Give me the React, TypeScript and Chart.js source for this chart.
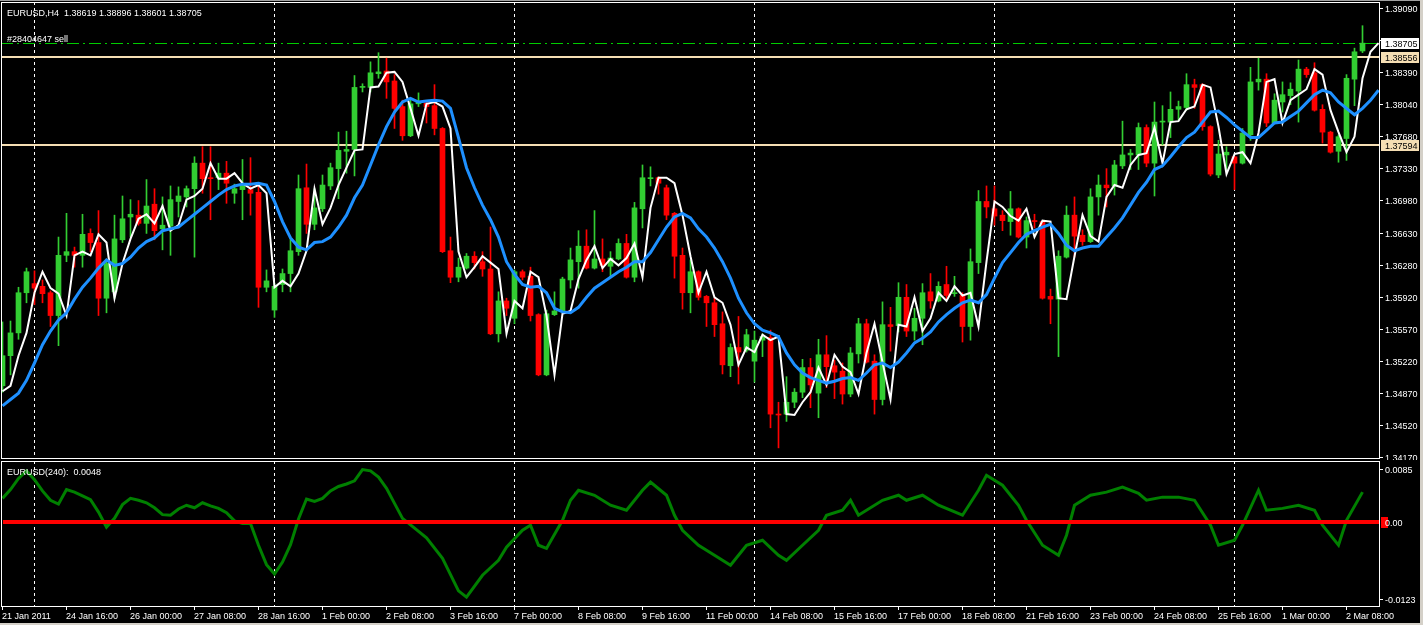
import React, { useEffect, useRef } from "react";
import { Chart, registerables } from "chart.js";

Chart.register(...registerables);

// ---------------- data (EURUSD, H4) ----------------
const opens = [
  1.3495, 1.3528, 1.3553, 1.3597, 1.3607, 1.3604, 1.3597, 1.3572, 1.3638, 1.3642,
  1.3638, 1.3662, 1.3652, 1.3591, 1.3598, 1.3655, 1.3680, 1.3682, 1.3673, 1.3694,
  1.3667, 1.3670, 1.3697, 1.3702, 1.3711, 1.3739, 1.3723, 1.3723, 1.3728, 1.3706,
  1.3710, 1.3710, 1.3707, 1.3603, 1.3578, 1.3606, 1.3618, 1.3642, 1.3712, 1.3672,
  1.3689, 1.3714, 1.3733, 1.3752, 1.3754, 1.3822, 1.3822, 1.3837, 1.3840, 1.3829,
  1.3801, 1.3769, 1.3804, 1.3805, 1.3802, 1.3777, 1.3643, 1.3614, 1.3624, 1.3637,
  1.3631, 1.3623, 1.3552, 1.3588, 1.3569, 1.3620, 1.3615, 1.3573, 1.3507, 1.3573,
  1.3577, 1.3611, 1.3631, 1.3648, 1.3624, 1.3634, 1.3626, 1.3634, 1.3651, 1.3614,
  1.3689, 1.3722, 1.3723, 1.3712, 1.3684, 1.3638, 1.3597, 1.3620, 1.3593, 1.3586,
  1.3563, 1.3517, 1.3537, 1.3534, 1.3522, 1.3545, 1.3548, 1.3464, 1.3464, 1.3477,
  1.3488, 1.3515, 1.3487, 1.3529, 1.3517, 1.3511, 1.3486, 1.3530, 1.3563, 1.3522,
  1.3480, 1.3562, 1.3561, 1.3592, 1.3555, 1.3569, 1.3598, 1.3588, 1.3606, 1.3596,
  1.3594, 1.3560, 1.3630, 1.3697, 1.3689, 1.3682, 1.3675, 1.3689, 1.3658, 1.3676,
  1.3675, 1.3593, 1.3590, 1.3636, 1.3682, 1.3660, 1.3653, 1.3702, 1.3715, 1.3714,
  1.3736, 1.3748, 1.3748, 1.3778, 1.3739, 1.3784, 1.3784, 1.3798, 1.3800, 1.3825,
  1.3825, 1.3779, 1.3726, 1.3748, 1.3746, 1.3739, 1.3770, 1.3828, 1.3831, 1.3783,
  1.3806, 1.3813, 1.3818, 1.3842, 1.3838, 1.3798, 1.3773, 1.3752, 1.3766, 1.3831,
  1.38619,
];
const highs = [
  1.3565, 1.3566, 1.3603, 1.3624, 1.3621, 1.3611, 1.3599, 1.3658, 1.3684, 1.3647,
  1.3683, 1.3667, 1.3687, 1.3633, 1.3682, 1.3703, 1.3699, 1.3698, 1.3721, 1.3711,
  1.3702, 1.3714, 1.3713, 1.3714, 1.3746, 1.3757, 1.3757, 1.3739, 1.3741, 1.3716,
  1.3743, 1.3745, 1.3714, 1.3622, 1.3607, 1.3623, 1.3658, 1.3726, 1.3738, 1.3711,
  1.3726, 1.3739, 1.3773, 1.3774, 1.3835, 1.3826, 1.3850, 1.3860, 1.3854, 1.3836,
  1.3808, 1.3809, 1.3816, 1.3807, 1.3825, 1.3778, 1.3658, 1.3635, 1.3640, 1.3642,
  1.3642, 1.3669, 1.3598, 1.3591, 1.3622, 1.3622, 1.3625, 1.3574, 1.3578, 1.3598,
  1.3614, 1.3646, 1.3665, 1.3666, 1.3687, 1.3656, 1.3642, 1.3656, 1.3661, 1.3696,
  1.3737, 1.3735, 1.3724, 1.3715, 1.3685, 1.3646, 1.3633, 1.3621, 1.3594, 1.3591,
  1.3576, 1.3541, 1.3571, 1.3557, 1.3555, 1.3552, 1.3556, 1.3477, 1.3505, 1.3492,
  1.3524, 1.3525, 1.3546, 1.3550, 1.3523, 1.3520, 1.3537, 1.3569, 1.3568, 1.3529,
  1.3587, 1.3581, 1.3608, 1.3606, 1.3580, 1.3607, 1.3618, 1.3609, 1.3626, 1.3615,
  1.3597, 1.3645, 1.3709, 1.3714, 1.3714, 1.3687, 1.3708, 1.3690, 1.3680, 1.3683,
  1.3676, 1.3601, 1.3643, 1.3692, 1.3702, 1.3666, 1.3711, 1.3726, 1.3733, 1.3742,
  1.3785, 1.3754, 1.3783, 1.3781, 1.3806, 1.3802, 1.3817, 1.3807, 1.3837, 1.3831,
  1.3826, 1.3780, 1.3764, 1.3757, 1.3747, 1.3777, 1.3844, 1.3854, 1.3837, 1.3815,
  1.3828, 1.3827, 1.3852, 1.3844, 1.3849, 1.3803, 1.3774, 1.3770, 1.3836, 1.3865,
  1.38896,
];
const lows = [
  1.3488, 1.3507, 1.3546, 1.3586, 1.3584, 1.3586, 1.3560, 1.3539, 1.3631, 1.3625,
  1.3625, 1.3642, 1.3572, 1.3575, 1.3591, 1.3652, 1.3658, 1.3671, 1.3662, 1.3655,
  1.3644, 1.3638, 1.3680, 1.3691, 1.3636, 1.3706, 1.3677, 1.3710, 1.3695, 1.3695,
  1.3677, 1.3682, 1.3581, 1.3598, 1.3570, 1.3598, 1.3598, 1.3638, 1.3662, 1.3666,
  1.3686, 1.3710, 1.3700, 1.3728, 1.3725, 1.3817, 1.3817, 1.3832, 1.3810, 1.3777,
  1.3764, 1.3768, 1.3801, 1.3783, 1.3770, 1.3641, 1.3608, 1.3609, 1.3623, 1.3623,
  1.3615, 1.3551, 1.3543, 1.3572, 1.3563, 1.3611, 1.3566, 1.3506, 1.3506, 1.3572,
  1.3576, 1.3602, 1.3602, 1.3623, 1.3623, 1.3620, 1.3614, 1.3633, 1.3613, 1.3609,
  1.3668, 1.3714, 1.3705, 1.3677, 1.3613, 1.3579, 1.3575, 1.3589, 1.3560, 1.3549,
  1.3508, 1.3505, 1.3497, 1.3532, 1.3499, 1.3527, 1.3449, 1.3427, 1.3456, 1.3471,
  1.3482, 1.3471, 1.3460, 1.3493, 1.3481, 1.3475, 1.3483, 1.3520, 1.3520, 1.3464,
  1.3474, 1.3533, 1.3554, 1.3549, 1.3545, 1.3540, 1.3580, 1.3587, 1.3590, 1.3593,
  1.3543, 1.3545, 1.3618, 1.3679, 1.3671, 1.3665, 1.3660, 1.3657, 1.3646, 1.3668,
  1.3590, 1.3563, 1.3527, 1.3635, 1.3636, 1.3649, 1.3652, 1.3682, 1.3691, 1.3704,
  1.3733, 1.3732, 1.3732, 1.3735, 1.3703, 1.3759, 1.3767, 1.3786, 1.3797, 1.3799,
  1.3775, 1.3725, 1.3723, 1.3732, 1.3710, 1.3738, 1.3764, 1.3819, 1.3779, 1.3782,
  1.3795, 1.3803, 1.3784, 1.3833, 1.3796, 1.3761, 1.3750, 1.3740, 1.3742, 1.3802,
  1.38601,
];
const closes = [
  1.3528, 1.3553, 1.3597, 1.3620, 1.3602, 1.3596, 1.3572, 1.3638, 1.3642, 1.3638,
  1.3661, 1.3652, 1.3591, 1.3629, 1.3656, 1.3678, 1.3683, 1.3673, 1.3692, 1.3665,
  1.3671, 1.3699, 1.3703, 1.3711, 1.3739, 1.3722, 1.3722, 1.3728, 1.3717, 1.3711,
  1.3715, 1.3706, 1.3603, 1.3610, 1.3604, 1.3618, 1.3643, 1.3711, 1.3672, 1.3690,
  1.3715, 1.3734, 1.3753, 1.3754, 1.3822, 1.3823, 1.3838, 1.3839, 1.3828, 1.3799,
  1.3769, 1.3804, 1.3806, 1.3801, 1.3777, 1.3642, 1.3614, 1.3625, 1.3637, 1.3630,
  1.3623, 1.3552, 1.3588, 1.3580, 1.3620, 1.3614, 1.3572, 1.3507, 1.3574, 1.3577,
  1.3612, 1.3633, 1.3648, 1.3624, 1.3634, 1.3627, 1.3635, 1.3651, 1.3614, 1.3690,
  1.3723, 1.3723, 1.3717, 1.3682, 1.3637, 1.3597, 1.3620, 1.3592, 1.3586, 1.3562,
  1.3518, 1.3537, 1.3532, 1.3551, 1.3545, 1.3549, 1.3464, 1.3463, 1.3477, 1.3488,
  1.3515, 1.3496, 1.3529, 1.3516, 1.3510, 1.3486, 1.3531, 1.3563, 1.3521, 1.3480,
  1.3562, 1.3560, 1.3592, 1.3555, 1.3569, 1.3597, 1.3588, 1.3604, 1.3594, 1.3597,
  1.3560, 1.3631, 1.3697, 1.3691, 1.3681, 1.3676, 1.3689, 1.3658, 1.3676, 1.3675,
  1.3591, 1.3590, 1.3637, 1.3682, 1.3659, 1.3653, 1.3702, 1.3715, 1.3712, 1.3737,
  1.3748, 1.3750, 1.3778, 1.3739, 1.3784, 1.3785, 1.3798, 1.3801, 1.3825, 1.3822,
  1.3779, 1.3727, 1.3749, 1.3751, 1.3739, 1.3772, 1.3828, 1.3831, 1.3783, 1.3808,
  1.3814, 1.3820, 1.3842, 1.3836, 1.3797, 1.3773, 1.3751, 1.3768, 1.3832, 1.3861,
  1.38705,
];
// closes of the two bars before the window (the white line is the close shifted 2 bars)
const priorCloses = [1.3489, 1.3495];
// blue moving average, one value per bar (shifted 2 bars, so 2 more values than bars)
const maBlue = [
  1.3473, 1.3480, 1.3487, 1.3501, 1.3520, 1.3540, 1.3555, 1.3567, 1.3575, 1.3590,
  1.3603, 1.3613, 1.3624, 1.3633, 1.3627, 1.3629, 1.3636, 1.3646, 1.3653, 1.3657,
  1.3665, 1.3667, 1.3669, 1.3676, 1.3683, 1.3690, 1.3697, 1.3704, 1.3710, 1.3714,
  1.3716, 1.3716, 1.3717, 1.3715, 1.3697, 1.3675, 1.3657, 1.3647, 1.3644, 1.3652,
  1.3653, 1.3658, 1.3669, 1.3682, 1.3701, 1.3715, 1.3737, 1.3759, 1.3779, 1.3795,
  1.3806, 1.3810, 1.3806, 1.3807, 1.3808, 1.3807, 1.3799, 1.3767, 1.3734, 1.3712,
  1.3693, 1.3677, 1.3658, 1.3631, 1.3617, 1.3606, 1.3603, 1.3604, 1.3597, 1.3580,
  1.3576, 1.3575, 1.3581, 1.3592, 1.3602, 1.3608, 1.3614, 1.3620, 1.3625, 1.3631,
  1.3631, 1.3641, 1.3655, 1.3669, 1.3680, 1.3684, 1.3679, 1.3667, 1.3658, 1.3646,
  1.3631, 1.3613, 1.3591, 1.3575, 1.3563, 1.3556, 1.3553, 1.3549, 1.3531, 1.3518,
  1.3509, 1.3504, 1.3501, 1.3498, 1.3500, 1.3503, 1.3504, 1.3501, 1.3509, 1.3518,
  1.3520, 1.3515, 1.3521, 1.3531, 1.3542, 1.3547, 1.3554, 1.3565, 1.3573, 1.3580,
  1.3586, 1.3589, 1.3586, 1.3595, 1.3613, 1.3630, 1.3641, 1.3652, 1.3661, 1.3665,
  1.3669, 1.3672, 1.3662, 1.3649, 1.3643, 1.3646, 1.3648, 1.3648, 1.3658, 1.3668,
  1.3679, 1.3693, 1.3707, 1.3718, 1.3732, 1.3736, 1.3746, 1.3757, 1.3767, 1.3773,
  1.3784, 1.3795, 1.3796, 1.3789, 1.3781, 1.3774, 1.3767, 1.3767, 1.3775, 1.3783,
  1.3784, 1.3790, 1.3796, 1.3805, 1.3814, 1.3819, 1.3816, 1.3806, 1.3799, 1.3792,
  1.3799, 1.3808, 1.3819,
];
// lower window: EURUSD(240) oscillator, bar index -> value
const oscBars = [
  0, 1, 2, 3, 4, 5, 6, 7, 8, 9, 10, 11, 12, 13, 14, 15, 16, 17, 18, 19,
  20, 21, 22, 23, 24, 25, 26, 27, 28, 29, 30, 31, 32, 33, 34, 35, 36, 37, 38, 39,
  40, 41, 42, 43, 44, 45, 46, 47, 48, 49, 50, 53, 55, 57, 58, 60, 62, 63, 65, 66,
  67, 68, 70, 71, 72, 74, 76, 78, 80, 81, 83, 84, 85, 87, 89, 91, 93, 95, 97, 98,
  100, 102, 103, 105, 106, 107, 110, 112, 113, 115, 117, 120, 122, 123, 125, 127, 128, 130, 132, 133,
  134, 136, 138, 140, 142, 143, 145, 147, 149, 151, 152, 154, 155, 157, 158, 160, 162, 164, 165, 167,
  168, 170,
];
const oscValues = [
  0.0038, 0.0052, 0.0070, 0.0082, 0.0068, 0.0050, 0.0035, 0.0029, 0.0052, 0.0048,
  0.0042, 0.0036, 0.0016, -0.0008, 0.0006, 0.0028, 0.0038, 0.0035, 0.0031, 0.0023,
  0.0012, 0.0011, 0.0021, 0.0027, 0.0023, 0.0031, 0.0026, 0.0022, 0.0015, 0.0002,
  -0.0002, -0.0002, -0.0037, -0.0068, -0.0083, -0.0064, -0.0036, 0.0005, 0.0037, 0.0033,
  0.0038, 0.0050, 0.0057, 0.0061, 0.0066, 0.0084, 0.0082, 0.0072, 0.0054, 0.0030,
  0.0006, -0.0025, -0.0058, -0.0110, -0.0120, -0.0085, -0.0061, -0.0040, -0.0013, -0.0005,
  -0.0037, -0.0042, 0.0003, 0.0035, 0.0051, 0.0043, 0.0027, 0.0019, 0.0051, 0.0064,
  0.0043, 0.0011, -0.0013, -0.0037, -0.0053, -0.0069, -0.0037, -0.0029, -0.0053, -0.0061,
  -0.0037, -0.0013, 0.0011, 0.0019, 0.0035, 0.0011, 0.0035, 0.0043, 0.0035, 0.0043,
  0.0027, 0.0011, 0.0051, 0.0075, 0.0059, 0.0027, 0.0003, -0.0037, -0.0053, -0.0021,
  0.0027, 0.0043, 0.0048, 0.0056, 0.0046, 0.0035, 0.0040, 0.0040, 0.0035, -0.0005,
  -0.0037, -0.0029, -0.0005, 0.0051, 0.0019, 0.0022, 0.0027, 0.0019, -0.0005, -0.0037,
  0.0003, 0.0048,
];
const timeLabels = [
  "21 Jan 2011", "24 Jan 16:00", "26 Jan 00:00", "27 Jan 08:00", "28 Jan 16:00", "1 Feb 00:00",
  "2 Feb 08:00", "3 Feb 16:00", "7 Feb 00:00", "8 Feb 08:00", "9 Feb 16:00", "11 Feb 00:00",
  "14 Feb 08:00", "15 Feb 16:00", "17 Feb 00:00", "18 Feb 08:00", "21 Feb 16:00", "23 Feb 00:00",
  "24 Feb 08:00", "25 Feb 16:00", "1 Mar 00:00", "2 Mar 08:00",
];
const barsPerTimeLabel = 8;
const weekStartBars = [4, 34, 64, 94, 124, 154];
const priceTickLabels = [
  "1.39090", "1.38740", "1.38390", "1.38040", "1.37680", "1.37330", "1.36980", "1.36630",
  "1.36280", "1.35920", "1.35570", "1.35220", "1.34870", "1.34520", "1.34170",
];
const priceTickTop = 1.3909;
const priceTickBottom = 1.3417;
const resistanceLevel = 1.38556;
const supportLevel = 1.37594;
const orderLevel = 1.38705;
const oscTickValues = [0.0085, -0.0123];
const oscTickLabels = ["0.0085", "-0.0123"];
const chartTitle = "EURUSD,H4  1.38619 1.38896 1.38601 1.38705";
const orderTitle = "#28404647 sell";
const oscTitle = "EURUSD(240):  0.0048";

// ---------------- layout (pixels) ----------------
const W = 1423;
const H = 625;
const AREA_L = 1;
const AREA_R = 1379;
const BAR_PX = 8;
const BAR0_X = 2.5;
const XMIN = -(BAR0_X - AREA_L) / BAR_PX;
const XMAX = XMIN + (AREA_R - AREA_L) / BAR_PX;

const MAIN_H = 460;
const MAIN_TOP = 2;
const MAIN_BOTTOM = 458;
const PK = (priceTickTop - priceTickBottom) / (457 - 8);
const PMAX = priceTickTop + (8 - MAIN_TOP) * PK;
const PMIN = priceTickBottom - (MAIN_BOTTOM - 457) * PK;

const OSC_OFF = 460;
const OSC_H = 165;
const OSC_TOP = 461 - OSC_OFF;
const OSC_BOTTOM = 606 - OSC_OFF;
const OK2 = (oscTickValues[0] - oscTickValues[1]) / (599 - 469);
const OMAX = oscTickValues[0] + (469 - 461) * OK2;
const OMIN = oscTickValues[1] - (606 - 599) * OK2;

const FONT = '9px "Liberation Sans", Arial, sans-serif';
const BULL = "#32CD32";
const BEAR = "#FF0000";
const TAN = "#F5DEB3";
const FRAME = "#D4D0C8";

function drawVGrid(chart: any, top: number, bottom: number) {
  const ctx = chart.ctx;
  const xs = chart.scales.x;
  ctx.save();
  ctx.strokeStyle = "#FFFFFF";
  ctx.lineWidth = 1;
  ctx.setLineDash([3, 3]);
  weekStartBars.forEach((b) => {
    const x = Math.floor(xs.getPixelForValue(b)) + 0.5;
    ctx.beginPath();
    ctx.moveTo(x, top);
    ctx.lineTo(x, bottom);
    ctx.stroke();
  });
  ctx.restore();
}

function priceBox(ctx: any, y: number, text: string, bg: string, fg: string) {
  const yy = Math.round(y);
  ctx.fillStyle = bg;
  ctx.fillRect(1381, yy - 5, 38, 11);
  ctx.fillStyle = fg;
  ctx.fillText(text, 1385, yy + 3.5);
}

const mainPlugin = {
  id: "mt4main",
  beforeDatasetsDraw(chart: any) {
    const ctx = chart.ctx;
    const ys = chart.scales.y;
    drawVGrid(chart, MAIN_TOP, MAIN_BOTTOM);
    ctx.save();
    // order line (dash-dot)
    const yo = Math.round(ys.getPixelForValue(orderLevel)) + 0.5;
    ctx.strokeStyle = "#00CC00";
    ctx.lineWidth = 1;
    ctx.setLineDash([12, 4, 2, 4]);
    ctx.beginPath();
    ctx.moveTo(AREA_L, yo);
    ctx.lineTo(AREA_R, yo);
    ctx.stroke();
    ctx.setLineDash([]);
    // horizontal levels
    ctx.strokeStyle = TAN;
    ctx.lineWidth = 2;
    [resistanceLevel, supportLevel].forEach((lv) => {
      const y = Math.round(ys.getPixelForValue(lv));
      ctx.beginPath();
      ctx.moveTo(AREA_L, y);
      ctx.lineTo(AREA_R, y);
      ctx.stroke();
    });
    ctx.restore();
  },
  afterDraw(chart: any) {
    const ctx = chart.ctx;
    const ys = chart.scales.y;
    ctx.save();
    ctx.strokeStyle = "#FFFFFF";
    ctx.lineWidth = 1;
    ctx.strokeRect(AREA_L + 0.5, MAIN_TOP + 0.5, AREA_R - AREA_L, MAIN_BOTTOM - MAIN_TOP);
    ctx.font = FONT;
    ctx.textBaseline = "alphabetic";
    ctx.fillStyle = "#FFFFFF";
    const n = priceTickLabels.length;
    priceTickLabels.forEach((lab, k) => {
      const v = priceTickTop + ((priceTickBottom - priceTickTop) * k) / (n - 1);
      const y = Math.round(ys.getPixelForValue(v));
      ctx.fillRect(AREA_R + 1, y, 3, 1);
      ctx.fillText(lab, 1385, y + 3.5);
    });
    priceBox(ctx, ys.getPixelForValue(orderLevel), orderLevel.toFixed(5), "#FFFFFF", "#000000");
    priceBox(ctx, ys.getPixelForValue(resistanceLevel), resistanceLevel.toFixed(5), TAN, "#000000");
    priceBox(ctx, ys.getPixelForValue(supportLevel), supportLevel.toFixed(5), TAN, "#000000");
    ctx.fillStyle = "#FFFFFF";
    ctx.fillText(chartTitle, 7, 16);
    ctx.fillText(orderTitle, 7, 42);
    // window frame
    ctx.fillStyle = "#A0A0A0";
    ctx.fillRect(0, 0, W, 1);
    ctx.fillStyle = FRAME;
    ctx.fillRect(W - 3, 0, 3, MAIN_H);
    ctx.restore();
  },
};

const oscPlugin = {
  id: "mt4osc",
  beforeDatasetsDraw(chart: any) {
    drawVGrid(chart, OSC_TOP, OSC_BOTTOM);
  },
  afterDatasetsDraw(chart: any) {
    const ctx = chart.ctx;
    const ys = chart.scales.y;
    const y0 = ys.getPixelForValue(0);
    ctx.save();
    ctx.fillStyle = "#FF0000";
    ctx.fillRect(3, Math.round(y0) - 2, AREA_R - 3, 4);
    ctx.restore();
  },
  afterDraw(chart: any) {
    const ctx = chart.ctx;
    const ys = chart.scales.y;
    const xs = chart.scales.x;
    ctx.save();
    ctx.strokeStyle = "#FFFFFF";
    ctx.lineWidth = 1;
    ctx.strokeRect(AREA_L + 0.5, OSC_TOP + 0.5, AREA_R - AREA_L, OSC_BOTTOM - OSC_TOP);
    ctx.font = FONT;
    ctx.textBaseline = "alphabetic";
    ctx.fillStyle = "#FFFFFF";
    oscTickValues.forEach((v, k) => {
      const y = Math.round(ys.getPixelForValue(v));
      ctx.fillRect(AREA_R + 1, y, 3, 1);
      ctx.fillText(oscTickLabels[k], 1385, y + 3.5);
    });
    const y0 = Math.round(ys.getPixelForValue(0));
    ctx.fillStyle = "#FF0000";
    ctx.fillRect(1381, y0 - 5, 7, 11);
    ctx.fillStyle = "#FFFFFF";
    ctx.fillText((0).toFixed(2), 1385, y0 + 3.5);
    ctx.fillText(oscTitle, 7, 475 - OSC_OFF);
    // time axis
    timeLabels.forEach((lab, k) => {
      const x = Math.floor(xs.getPixelForValue(k * barsPerTimeLabel));
      ctx.fillRect(x, OSC_BOTTOM + 1, 1, 3);
      ctx.fillText(lab, x, 619 - OSC_OFF);
    });
    // window frame
    ctx.fillStyle = FRAME;
    ctx.fillRect(W - 3, 0, 3, OSC_H);
    ctx.fillRect(0, H - OSC_OFF - 2, W, 2);
    ctx.restore();
  },
};

export default function App() {
  const mainRef = useRef<HTMLCanvasElement>(null);
  const oscRef = useRef<HTMLCanvasElement>(null);

  useEffect(() => {
    document.body.style.margin = "0";
    document.body.style.background = "#000";
    const colors = closes.map((c, i) => (c >= opens[i] ? BULL : BEAR));
    const wickData = closes.map((_, i) => ({ x: i, y: [lows[i], highs[i]] }));
    const bodyData = closes.map((c, i) => ({ x: i, y: [opens[i], c] }));
    const whiteData = [...priorCloses, ...closes].map((v, i) => ({ x: i, y: v }));
    const blueData = maBlue.map((v, i) => ({ x: i, y: v }));

    const main = new Chart(mainRef.current as HTMLCanvasElement, {
      type: "bar",
      data: {
        datasets: [
          {
            type: "line",
            data: blueData as any,
            borderColor: "#1E90FF",
            borderWidth: 3,
            pointRadius: 0,
            tension: 0,
            fill: false,
            order: 0,
          } as any,
          {
            type: "line",
            data: whiteData as any,
            borderColor: "#FFFFFF",
            borderWidth: 2,
            pointRadius: 0,
            tension: 0,
            fill: false,
            order: 1,
          } as any,
          {
            type: "bar",
            data: bodyData as any,
            backgroundColor: colors,
            borderWidth: 0,
            barThickness: 5,
            minBarLength: 1,
            grouped: false,
            order: 2,
          } as any,
          {
            type: "bar",
            data: wickData as any,
            backgroundColor: colors,
            borderWidth: 0,
            barThickness: 1,
            minBarLength: 1,
            grouped: false,
            order: 3,
          } as any,
        ],
      },
      options: {
        responsive: false,
        devicePixelRatio: 1,
        animation: false,
        events: [],
        layout: { padding: { left: AREA_L, right: W - AREA_R, top: MAIN_TOP, bottom: MAIN_H - MAIN_BOTTOM } },
        plugins: { legend: { display: false }, tooltip: { enabled: false } },
        scales: {
          x: { type: "linear", min: XMIN, max: XMAX, display: false, offset: false },
          y: { type: "linear", min: PMIN, max: PMAX, display: false },
        },
      } as any,
      plugins: [mainPlugin],
    });

    const oscData = oscBars.map((b, i) => ({ x: b, y: oscValues[i] }));
    const osc = new Chart(oscRef.current as HTMLCanvasElement, {
      type: "line",
      data: {
        datasets: [
          {
            data: oscData as any,
            borderColor: "#008000",
            borderWidth: 3,
            pointRadius: 0,
            tension: 0,
            fill: false,
          },
        ],
      },
      options: {
        responsive: false,
        devicePixelRatio: 1,
        animation: false,
        events: [],
        layout: { padding: { left: AREA_L, right: W - AREA_R, top: OSC_TOP, bottom: OSC_H - OSC_BOTTOM } },
        plugins: { legend: { display: false }, tooltip: { enabled: false } },
        scales: {
          x: { type: "linear", min: XMIN, max: XMAX, display: false },
          y: { type: "linear", min: OMIN, max: OMAX, display: false },
        },
      } as any,
      plugins: [oscPlugin],
    });

    return () => {
      main.destroy();
      osc.destroy();
    };
  }, []);

  return (
    <div style={{ position: "fixed", left: 0, top: 0, width: W, height: H, background: "#000", overflow: "hidden" }}>
      <canvas ref={mainRef} width={W} height={MAIN_H} style={{ position: "absolute", left: 0, top: 0, width: W, height: MAIN_H }} />
      <canvas ref={oscRef} width={W} height={OSC_H} style={{ position: "absolute", left: 0, top: OSC_OFF, width: W, height: OSC_H }} />
    </div>
  );
}
